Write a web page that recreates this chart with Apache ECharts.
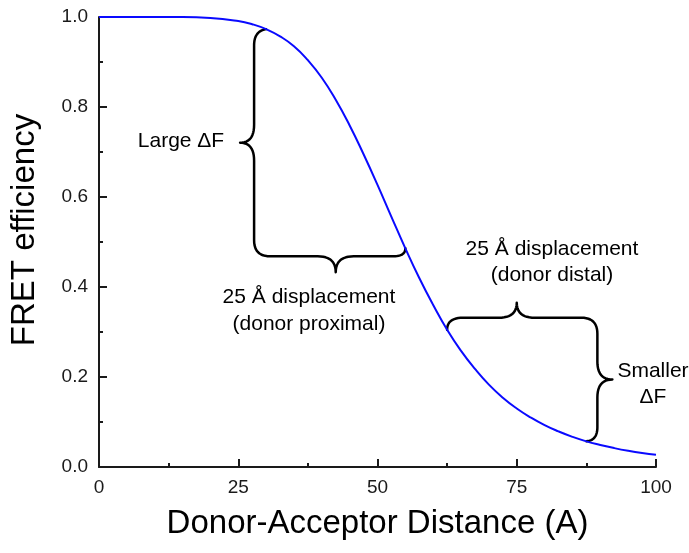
<!DOCTYPE html>
<html>
<head>
<meta charset="utf-8">
<script src="https://cdn.jsdelivr.net/npm/echarts@6/dist/echarts.min.js"></script>
<style>html,body{margin:0;padding:0;background:#fff;}#chart{width:689px;height:553px;}</style>
</head>
<body>
<div id="chart"></div>
<script>
// Data
const distances = [0, 5, 10, 15, 20, 25, 27.5, 30, 32.5, 35, 37.5, 40, 42.5, 45, 47.5, 50, 52.5, 55, 57.5, 60, 62.5, 65, 67.5, 70, 72.5, 75, 77.5, 80, 82.5, 85, 87.5, 90, 92.5, 95, 97.5, 100];
const efficiency = [1.000, 1.000, 1.000, 1.000, 0.998, 0.991, 0.984, 0.973, 0.957, 0.935, 0.904, 0.865, 0.816, 0.759, 0.695, 0.627, 0.556, 0.486, 0.420, 0.360, 0.305, 0.258, 0.218, 0.183, 0.154, 0.130, 0.110, 0.093, 0.079, 0.067, 0.057, 0.049, 0.042, 0.036, 0.031, 0.027];
const xTicks = [0, 25, 50, 75, 100];
const yTicks = [0.0, 0.2, 0.4, 0.6, 0.8, 1.0];
// 25 Å displacements: [start distance, end distance, kind]
const displacements = [[30, 55, 0], [62.5, 87.5, 1]];
const xTitle = 'Donor-Acceptor Distance (A)';
const yTitle = 'FRET efficiency';

const FONT = '"Liberation Sans", Arial, sans-serif';

function effAt(x) {
  const i = distances.indexOf(x);
  return efficiency[i];
}

function quad(pts, p0, c, p1, n) {
  n = n || 12;
  for (let i = 1; i <= n; i++) {
    const t = i / n, u = 1 - t;
    pts.push([u * u * p0[0] + 2 * u * t * c[0] + t * t * p1[0],
              u * u * p0[1] + 2 * u * t * c[1] + t * t * p1[1]]);
  }
}

function renderBrace(params, api) {
  const x0 = api.value(0), x1 = api.value(1), kind = api.value(2);
  const A = api.coord([x0, effAt(x0)]);
  const B = api.coord([x1, effAt(x1)]);
  const hx = api.coord([(x0 + x1) / 2, 0])[0];
  const r = 16, s = 18;
  const pts = [A];
  if (kind === 0) {
    const xv = A[0] - 12, yh = B[1] + 8, tipX = xv - 14, cy = (A[1] + yh) / 2, tipY = yh + 16;
    quad(pts, A, [xv, A[1] + 2], [xv, A[1] + r]);
    pts.push([xv, cy - s]);
    quad(pts, [xv, cy - s], [xv, cy], [tipX, cy]);
    quad(pts, [tipX, cy], [xv, cy], [xv, cy + s]);
    pts.push([xv, yh - r]);
    quad(pts, [xv, yh - r], [xv, yh], [xv + r, yh]);
    pts.push([hx - s, yh]);
    quad(pts, [hx - s, yh], [hx, yh], [hx, tipY]);
    quad(pts, [hx, tipY], [hx, yh], [hx + s, yh]);
    pts.push([B[0] - 12, yh]);
    quad(pts, [B[0] - 12, yh], [B[0], yh], B);
  } else {
    const yh = A[1] - 12, tipY = yh - 15, xv = B[0] + 11, cy = (yh + B[1]) / 2, tipX = xv + 15;
    quad(pts, A, [A[0], yh], [A[0] + r, yh]);
    pts.push([hx - s, yh]);
    quad(pts, [hx - s, yh], [hx, yh], [hx, tipY]);
    quad(pts, [hx, tipY], [hx, yh], [hx + s, yh]);
    pts.push([xv - r, yh]);
    quad(pts, [xv - r, yh], [xv, yh], [xv, yh + r]);
    pts.push([xv, cy - s]);
    quad(pts, [xv, cy - s], [xv, cy], [tipX, cy]);
    quad(pts, [tipX, cy], [xv, cy], [xv, cy + s]);
    pts.push([xv, B[1] - 14]);
    quad(pts, [xv, B[1] - 14], [xv, B[1] - 1], B);
  }
  return {
    type: 'polyline',
    shape: { points: pts, smooth: 0 },
    style: { fill: null, stroke: '#000', lineWidth: 2.5, lineJoin: 'round', lineCap: 'round' },
    silent: true
  };
}

const chart = echarts.init(document.getElementById('chart'), null, { renderer: 'canvas' });
const axisLabelStyle = { color: '#1a1a1a', fontSize: 19, fontFamily: FONT };

chart.setOption({
  animation: false,
  backgroundColor: '#fff',
  grid: { left: 96, right: 33, top: 17, bottom: 86, containLabel: false },
  xAxis: {
    type: 'value', min: xTicks[0], max: xTicks[xTicks.length - 1], interval: 25,
    name: xTitle, nameLocation: 'middle', nameGap: 40,
    nameTextStyle: { color: '#000', fontSize: 33, fontFamily: FONT },
    axisLine: { onZero: false, lineStyle: { color: '#1a1a1a', width: 2 } },
    axisTick: { inside: true, length: 8, lineStyle: { color: '#1a1a1a', width: 2 } },
    minorTick: { show: true, splitNumber: 2, length: 4, lineStyle: { color: '#1a1a1a', width: 2 } },
    axisLabel: Object.assign({ margin: 11, formatter: v => String(v) }, axisLabelStyle),
    splitLine: { show: false }
  },
  yAxis: {
    type: 'value', min: yTicks[0], max: yTicks[yTicks.length - 1], interval: 0.2,
    name: yTitle, nameLocation: 'middle', nameGap: 58,
    nameTextStyle: { color: '#000', fontSize: 33, fontFamily: FONT, padding: [0, 0, 0, 24] },
    axisLine: { onZero: false, lineStyle: { color: '#1a1a1a', width: 2 } },
    axisTick: { inside: true, length: 8, lineStyle: { color: '#1a1a1a', width: 2 } },
    minorTick: { show: true, splitNumber: 2, length: 4, lineStyle: { color: '#1a1a1a', width: 2 } },
    axisLabel: Object.assign({ margin: 11, formatter: v => v.toFixed(1) }, axisLabelStyle),
    splitLine: { show: false }
  },
  series: [
    {
      type: 'line',
      data: distances.map((d, i) => [d, efficiency[i]]),
      smooth: true,
      showSymbol: false,
      symbol: 'none',
      lineStyle: { color: '#0a0aff', width: 2 },
      z: 3
    },
    {
      type: 'custom',
      data: displacements,
      encode: { x: [0, 1], y: 2 },
      renderItem: renderBrace,
      clip: false,
      z: 2
    }
  ],
  graphic: [
    { type: 'text', x: 181, y: 141, style: { text: 'Large ΔF', font: '21px ' + FONT, fill: '#000', align: 'center', verticalAlign: 'middle' } },
    { type: 'text', x: 309, y: 311, style: { text: '25 Å displacement\n(donor proximal)', font: '21px ' + FONT, lineHeight: 27, fill: '#000', align: 'center', verticalAlign: 'middle' } },
    { type: 'text', x: 552, y: 262, style: { text: '25 Å displacement\n(donor distal)', font: '21px ' + FONT, lineHeight: 26, fill: '#000', align: 'center', verticalAlign: 'middle' } },
    { type: 'text', x: 653, y: 384, style: { text: 'Smaller\nΔF', font: '21px ' + FONT, lineHeight: 26, fill: '#000', align: 'center', verticalAlign: 'middle' } }
  ]
});
</script>
</body>
</html>
